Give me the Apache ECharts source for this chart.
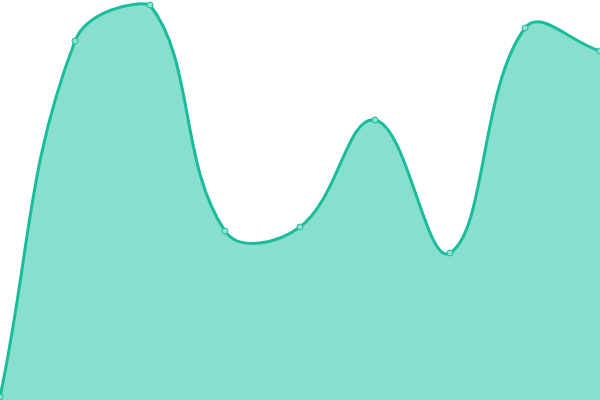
<!DOCTYPE html>
<html><head><meta charset="utf-8">
<script src="https://cdn.jsdelivr.net/npm/echarts@6/dist/echarts.min.js"></script>
<style>html,body{margin:0;padding:0;background:#fff}#c{width:600px;height:400px}</style>
</head><body><div id="c"></div>
<script>
const categories = ['1','2','3','4','5','6','7','8','9'];
const values = [3, 359, 395, 169, 173, 280, 147, 372, 349];
const TENSION = 0.4;

function splinePath(pts, tension, bounds) {
  const n = pts.length;
  const ctrl = [];
  const cap = p => [Math.max(bounds.x0, Math.min(bounds.x1, p[0])), Math.max(bounds.y0, Math.min(bounds.y1, p[1]))];
  for (let i = 0; i < n; i++) {
    const prev = pts[Math.max(0, i - 1)], cur = pts[i], next = pts[Math.min(n - 1, i + 1)];
    const d01 = Math.hypot(cur[0] - prev[0], cur[1] - prev[1]);
    const d12 = Math.hypot(next[0] - cur[0], next[1] - cur[1]);
    let s01 = d01 / (d01 + d12), s12 = d12 / (d01 + d12);
    if (isNaN(s01)) s01 = 0; if (isNaN(s12)) s12 = 0;
    const fa = tension * s01, fb = tension * s12;
    const dx = next[0] - prev[0], dy = next[1] - prev[1];
    ctrl.push({
      p: cap([cur[0] - fa * dx, cur[1] - fa * dy]),
      n: cap([cur[0] + fb * dx, cur[1] + fb * dy])
    });
  }
  let d = 'M' + pts[0][0] + ',' + pts[0][1];
  for (let i = 1; i < n; i++) {
    const c1 = ctrl[i - 1].n, c2 = ctrl[i].p, p = pts[i];
    d += 'C' + c1[0] + ',' + c1[1] + ',' + c2[0] + ',' + c2[1] + ',' + p[0] + ',' + p[1];
  }
  return d;
}

const chart = echarts.init(document.getElementById('c'));
chart.setOption({
  animation: false,
  grid: {left: 0, right: 0, top: 0, bottom: 0},
  xAxis: {type: 'category', data: categories, boundaryGap: false, show: false},
  yAxis: {type: 'value', min: 0, max: 400, show: false},
  series: [{
    type: 'custom',
    data: values.map((v, i) => [i, v]),
    encode: {x: 0, y: 1},
    renderItem: function (params, api) {
      if (params.dataIndex !== 0) return null;
      const pts = values.map((v, i) => api.coord([i, v]));
      const cs = params.coordSys;
      const bounds = {x0: cs.x, x1: cs.x + cs.width, y0: cs.y, y1: cs.y + cs.height};
      const base = cs.y + cs.height;
      const line = splinePath(pts, TENSION, bounds);
      const area = line + 'L' + pts[pts.length - 1][0] + ',' + base + 'L' + pts[0][0] + ',' + base + 'Z';
      return {
        type: 'group',
        children: [
          {type: 'path', shape: {pathData: area}, style: {fill: '#89dfce', stroke: null}},
          {type: 'path', shape: {pathData: line}, style: {fill: null, stroke: '#1abc9c', lineWidth: 3}}
        ]
      };
    },
    z: 1
  }, {
    type: 'scatter',
    data: values.map((v, i) => [i, v]),
    symbol: 'circle',
    symbolSize: 6,
    itemStyle: {color: '#8ee0d0', borderColor: '#1abc9c', borderWidth: 1, opacity: 1},
    z: 3
  }]
});
</script></body></html>
